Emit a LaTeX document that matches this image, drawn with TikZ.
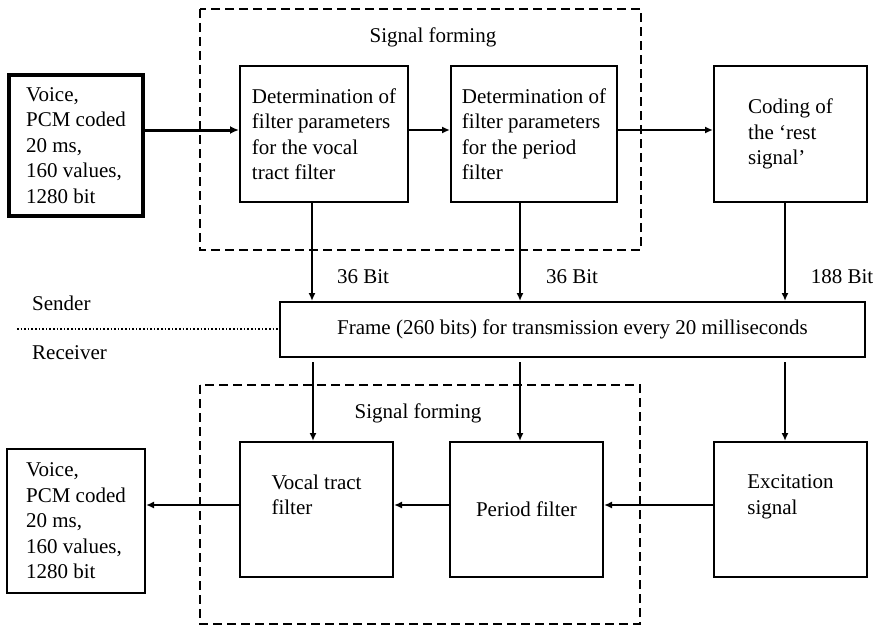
\documentclass[tikz,border=0pt]{standalone}
\usepackage{fontspec}
\setmainfont{Liberation Serif}
\usetikzlibrary{arrows.meta}
\begin{document}
\begin{tikzpicture}[x=1pt,y=-1pt,
  every node/.style={font=\fontsize{21}{25.5}\selectfont, inner sep=0pt},
  blk/.style={draw, line width=2pt, align=left, rectangle},
  arr/.style={line width=2pt, -{Latex[length=8pt,width=7pt]}},
  dashbox/.style={line width=2pt, dash pattern=on 9pt off 5pt}]
\useasboundingbox (0,0) rectangle (878,626);
% top row
\node[blk, line width=4pt, minimum width=134pt, minimum height=141pt] (voiceT) at (76,145.5) {Voice,\\PCM coded\\20 ms,\\160 values,\\1280 bit};
\node[blk, minimum width=168pt, minimum height=136pt] (det1) at (324,134) {Determination of\\filter parameters\\for the vocal\\tract filter};
\node[blk, minimum width=166pt, minimum height=136pt] (det2) at (534,134) {Determination of\\filter parameters\\for the period\\filter};
\node[blk, minimum width=153pt, minimum height=136pt] (coding) at (790.5,134) {Coding of\\the `rest\\signal'};
\draw[dashbox] (200,9) rectangle (641,250);
\node (sfT) at (433,37) {Signal forming};
% frame
\node[blk, minimum width=585pt, minimum height=55pt] (frame) at (572.5,329.5) {Frame (260 bits) for transmission every 20 milliseconds};
\node[anchor=west] (sender) at (32,303) {Sender};
\node[anchor=west] (receiver) at (32,353) {Receiver};
\coordinate (dotL) at (17,329);
\draw[line width=1.6pt, dotted] (dotL) -- (frame.west |- dotL);
% bottom row
\node[blk, minimum width=138pt, minimum height=144pt] (voiceB) at (76,521) {Voice,\\PCM coded\\20 ms,\\160 values,\\1280 bit};
\node[blk, minimum width=153pt, minimum height=135pt] (vocal) at (316.5,509.5) {Vocal tract\\filter\\[4pt]};
\node[blk, minimum width=153pt, minimum height=135pt] (period) at (526.5,509.5) {Period filter};
\node[blk, minimum width=153pt, minimum height=135pt] (excit) at (790.5,509.5) {Excitation\\signal\\[4pt]};
\draw[dashbox] (200,385) rectangle (640,624);
\node (sfB) at (418,413) {Signal forming};
% helper coordinates
\coordinate (yT) at (0,130);
\coordinate (yB) at (0,505);
\coordinate (x1) at (312,0);
\coordinate (x2) at (520,0);
\coordinate (x3) at (785,0);
\coordinate (x4) at (313,0);
\coordinate (fb) at (0,362);
% top horizontal arrows
\draw[line width=3pt, -{Latex[length=9pt,width=8pt]}] (voiceT.east |- yT) -- (det1.west |- yT);
\draw[arr] (det1.east |- yT) -- (det2.west |- yT);
\draw[arr] (det2.east |- yT) -- (coding.west |- yT);
% vertical arrows to frame
\draw[arr] (x1 |- det1.south) -- (x1 |- frame.north);
\draw[arr] (x2 |- det2.south) -- (x2 |- frame.north);
\draw[arr] (x3 |- coding.south) -- (x3 |- frame.north);
\node (b1) at (363,277) {36 Bit};
\node (b2) at (572,277) {36 Bit};
\node (b3) at (842,277) {188 Bit};
% vertical arrows from frame
\draw[arr] (x4 |- fb) -- (x4 |- vocal.north);
\draw[arr] (x2 |- fb) -- (x2 |- period.north);
\draw[arr] (x3 |- fb) -- (x3 |- excit.north);
% bottom horizontal arrows
\draw[arr] (excit.west |- yB) -- (period.east |- yB);
\draw[arr] (period.west |- yB) -- (vocal.east |- yB);
\draw[arr] (vocal.west |- yB) -- (voiceB.east |- yB);
\end{tikzpicture}
\end{document}
